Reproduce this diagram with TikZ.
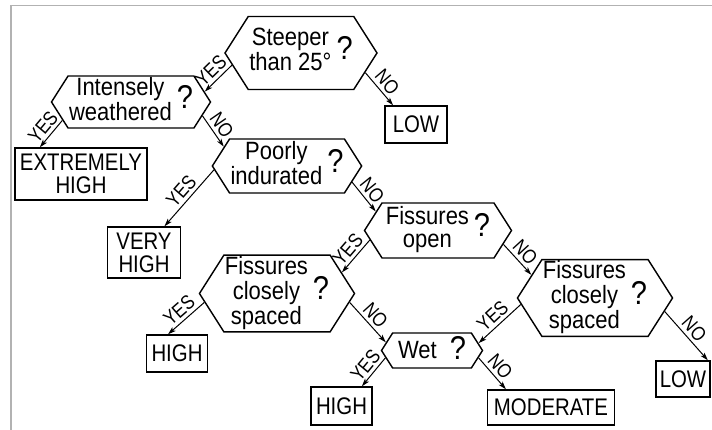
\documentclass[tikz,border=0pt]{standalone}
\usepackage{fontspec}
\setmainfont{Liberation Sans}[FakeStretch=0.85]
\newfontfamily\askfont{Liberation Sans}[FakeStretch=0.88]
\usetikzlibrary{shapes.symbols}
\usetikzlibrary{arrows.meta}
\newcommand{\ask}[1]{\begin{tabular}{@{}c@{}}#1\end{tabular}\hspace{5pt}{\fontsize{33}{33}\selectfont ?}}
\renewcommand{\arraystretch}{0.9}

\begin{document}
\begin{tikzpicture}[x=1pt,y=1pt]
\tikzstyle{hex}=[signal,signal to=east and west,signal pointer angle=115,draw,line width=0.5mm,inner sep=1pt,font=\askfont\fontsize{25}{25}\selectfont]
\tikzstyle{box}=[rectangle,align=center,draw,line width=0.5mm,inner sep=1pt,font=\fontsize{24}{23}\selectfont]
\tikzstyle{link}=[line width=0.35mm,-{Stealth[length=8pt,width=5pt,inset=2pt]}]
\tikzstyle{ans}=[sloped,above=2pt,pos=0.5,inner sep=1pt,font=\fontsize{20}{20}\selectfont]
\useasboundingbox (0,0) rectangle (712,430);
\draw[black!30,line width=1.2pt] (11,0) -- (11,424.5) -- (712,424.5);

% questions
\node[hex,minimum width=152pt,minimum height=73pt] at (301,377) (steep) {\ask{Steeper\\than 25°}};
\node[hex,minimum width=145pt,minimum height=52pt] at (131,328) (weath) {\ask{Intensely\\weathered}};
\node[hex,minimum width=149pt,minimum height=54pt] at (287,264) (poor) {\ask{Poorly\\indurated}};
\node[hex,minimum width=147pt,minimum height=55pt] at (438,199.5) (fopen) {\ask{Fissures\\open}};
\node[hex,minimum width=155pt,minimum height=75pt] at (277,136.5) (fcl) {\ask{Fissures\\closely\\spaced}};
\node[hex,minimum width=154pt,minimum height=74pt] at (595,132) (fcr) {\ask{Fissures\\closely\\spaced}};
\node[hex,minimum width=101pt,minimum height=35pt] at (432,79.5) (wet) {\ask{Wet\kern8pt}};

% ratings
\node[box,minimum width=132pt,minimum height=52pt] at (81,256) (xhigh) {EXTREMELY\\HIGH};
\node[box,minimum width=62pt,minimum height=37pt] at (416,305.5) (lowa) {LOW};
\node[box,minimum width=73pt,minimum height=51pt] at (144,177.5) (vhigh) {VERY\\HIGH};
\node[box,minimum width=61pt,minimum height=37pt] at (177,76.5) (higha) {HIGH};
\node[box,minimum width=61pt,minimum height=38pt] at (341.5,24) (highb) {HIGH};
\node[box,minimum width=127pt,minimum height=35pt] at (551,22.5) (moder) {MODERATE};
\node[box,minimum width=54pt,minimum height=36pt] at (683,51) (lowb) {LOW};

% branches
\draw[link] (steep.190) -- node[ans]{YES} (weath.8);
\draw[link] (steep.-17) -- node[ans]{NO} (lowa.140);
\draw[link] (weath.195) -- node[ans]{YES} (xhigh.147);
\draw[link] (weath.-11) -- node[ans]{NO} (poor.163);
\draw[link] (poor.183) -- node[ans]{YES} (vhigh.52);
\draw[link] (poor.-14) -- node[ans]{NO} (fopen.163);
\draw[link] (fopen.188) -- node[ans]{YES} (fcl.18);
\draw[link] (fopen.-12) -- node[ans]{NO} (fcr.160);
\draw[link] (fcl.187) -- node[ans]{YES} (higha.115);
\draw[link] (fcl.-7) -- node[ans]{NO} (wet.170);
\draw[link] (fcr.185) -- node[ans]{YES} (wet.9);
\draw[link] (fcr.-11) -- node[ans]{NO} (lowb.37);
\draw[link] (wet.189) -- node[ans]{YES} (highb.44);
\draw[link] (wet.-9) -- node[ans]{NO} (moder.158);
\end{tikzpicture}
\end{document}
